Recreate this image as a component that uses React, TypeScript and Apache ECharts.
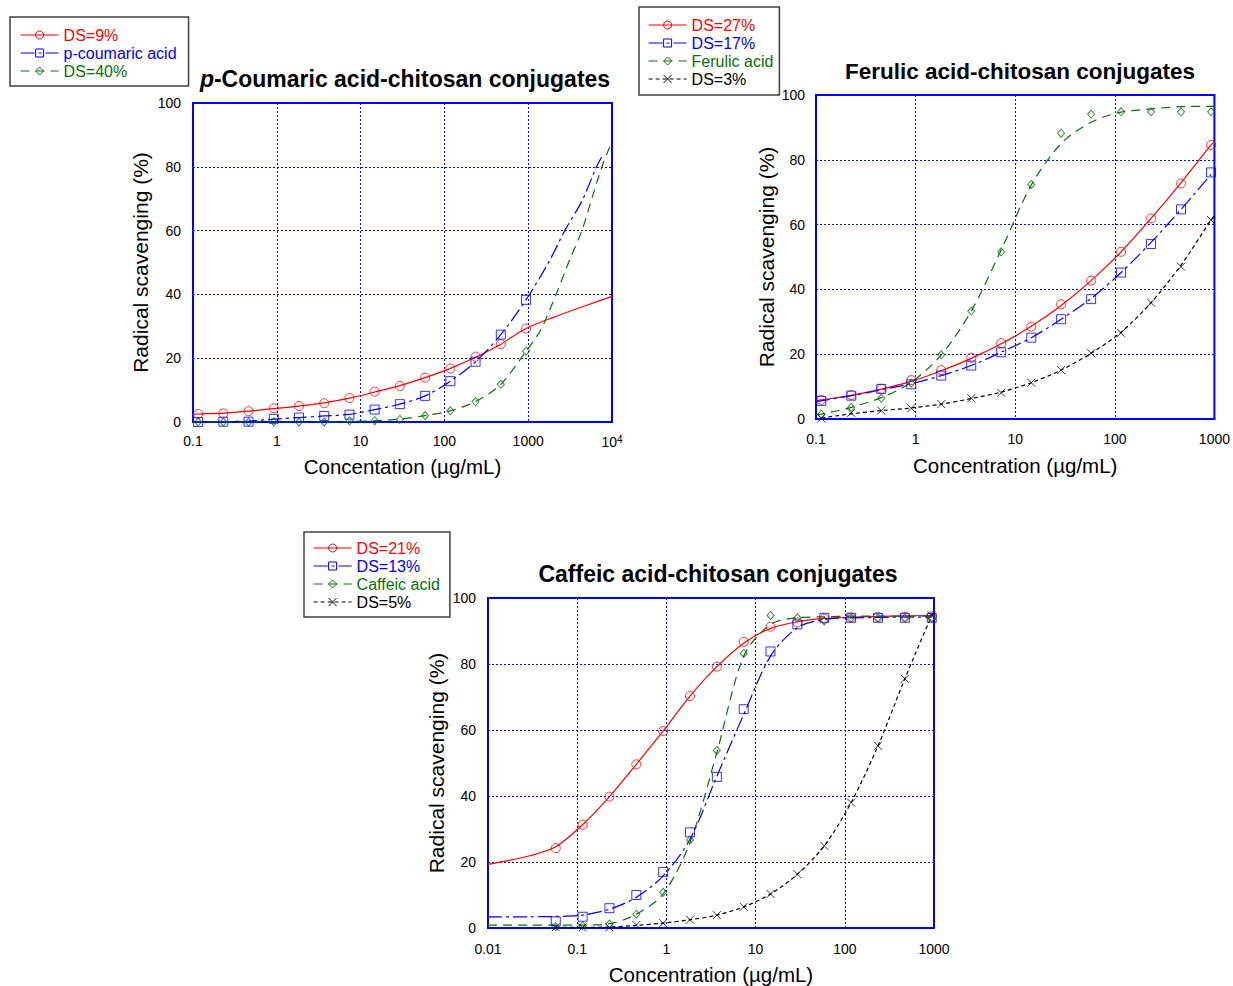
import React, { useEffect, useRef } from "react";
import * as echarts from "echarts";

const FONT = "'Liberation Sans', Arial, sans-serif";
const RED = "#ff0000";
const BLUE = "#0000ff";
const GREEN = "#0b6e0b";
const BLACK = "#000000";
const XSYM = "path://M0,0L10,10M0,10L10,0";

// ---------- Chart 1: p-Coumaric acid-chitosan conjugates ----------
const coumConc = [0.115, 0.23, 0.46, 0.92, 1.84, 3.68, 7.36, 14.7, 29.4, 58.9, 117.8, 235.5, 471, 942];
const coumDS9 = [2.5, 2.7, 3.4, 4.3, 5.0, 5.9, 7.5, 9.5, 11.3, 13.9, 16.8, 20.5, 24.4, 29.3];
const coumAcid = [0, 0.1, 0.1, 1.0, 1.4, 1.9, 2.3, 3.9, 5.6, 8.2, 12.8, 18.9, 27.4, 38.3];
const coumDS40 = [0, 0, 0, 0, 0, 0, 0.4, 0.4, 0.8, 2.0, 3.5, 6.4, 11.8, 22.2];
// fitted curves
const coumDS9Fit = [[0.1, 2.4], [0.115, 2.5], [0.23, 2.8], [0.46, 3.4], [0.92, 4.2], [1.84, 5.0], [3.68, 6.0], [7.36, 7.5], [14.7, 9.4], [29.4, 11.4], [58.9, 13.9], [117.8, 16.8], [235.5, 20.3], [471, 24.4], [942, 29.3], [2000, 32.8], [5000, 36.6], [10000, 39.4]];
const coumAcidFit = [[0.1, 0], [0.115, 0], [0.23, 0.1], [0.46, 0.3], [0.92, 0.9], [1.84, 1.4], [3.68, 1.9], [7.36, 2.4], [14.7, 3.9], [29.4, 5.6], [58.9, 8.2], [117.8, 12.8], [235.5, 18.9], [471, 27.4], [942, 38.3], [1800, 50.6], [2735, 60], [4400, 69.4], [6530, 80], [7500, 83]];
const coumDS40Fit = [[0.1, 0], [0.115, 0], [0.23, 0], [0.46, 0], [0.92, 0], [1.84, 0], [3.68, 0], [7.36, 0.2], [14.7, 0.4], [29.4, 0.9], [58.9, 2.0], [117.8, 3.5], [235.5, 6.4], [471, 11.8], [942, 22.2], [1400, 28.7], [2150, 40], [3100, 50.6], [4370, 60], [5800, 70.4], [7580, 80], [10000, 88]];

// ---------- Chart 2: Ferulic acid-chitosan conjugates ----------
const ferConc = [0.113, 0.226, 0.452, 0.904, 1.81, 3.62, 7.23, 14.5, 28.9, 57.8, 115.6, 231, 462, 925];
const ferDS27 = [5.9, 7.4, 9.3, 12.0, 15.1, 18.9, 23.4, 28.5, 35.4, 42.7, 51.6, 61.9, 72.7, 84.6];
const ferDS17 = [5.6, 7.2, 9.3, 10.7, 13.4, 16.5, 20.6, 25.1, 30.8, 37.0, 45.2, 54.0, 64.7, 76.1];
const ferAcid = [1.5, 3.6, 6.4, 11.0, 19.8, 33.3, 51.6, 72.4, 88.2, 94.1, 94.8, 94.8, 94.8, 94.8];
const ferDS3 = [0.2, 1.9, 2.6, 3.3, 4.6, 6.4, 8.1, 11.2, 15.1, 20.3, 26.6, 35.9, 47.0, 61.4];
const ferDS27Fit = [[0.1, 5.6], [0.113, 5.9], [0.226, 7.3], [0.452, 9.2], [0.904, 11.6], [1.81, 14.9], [3.62, 18.7], [7.23, 23.2], [14.5, 28.6], [28.9, 35.0], [57.8, 42.7], [115.6, 51.6], [231, 61.9], [462, 72.9], [925, 84.6], [1000, 85.6]];
const ferDS17Fit = [[0.1, 5.4], [0.113, 5.6], [0.226, 7.2], [0.452, 9.0], [0.904, 10.9], [1.81, 13.4], [3.62, 16.5], [7.23, 20.6], [14.5, 25.1], [28.9, 30.8], [57.8, 37.2], [115.6, 45.2], [231, 54.5], [462, 64.7], [925, 75.5]];
const ferAcidFit = [[0.1, 1.4], [0.113, 1.5], [0.226, 3.6], [0.452, 6.6], [0.904, 11.3], [1.81, 19.8], [3.62, 33.3], [7.23, 52.2], [14.5, 72.2], [28.9, 85.0], [57.8, 91.6], [115.6, 94.7], [231, 95.7], [462, 96.4], [925, 96.5], [1000, 96.5]];
const ferDS3Fit = [[0.113, 0.3], [0.226, 1.6], [0.452, 2.6], [0.904, 3.4], [1.81, 4.6], [3.62, 6.3], [7.23, 8.3], [14.5, 11.2], [28.9, 15.1], [57.8, 20.3], [115.6, 26.8], [231, 35.9], [462, 47.5], [925, 61.4], [1000, 62.7]];

// ---------- Chart 3: Caffeic acid-chitosan conjugates ----------
const cafConc = [0.0575, 0.115, 0.23, 0.46, 0.92, 1.84, 3.68, 7.36, 14.7, 29.4, 58.9, 117.8, 235.5, 471, 942];
const cafDS21 = [24.2, 31.3, 39.8, 49.6, 59.7, 70.3, 79.2, 86.7, 91.3, 92.6, 93.7, 94.1, 94.2, 94.3, 94.4];
const cafDS13 = [2.0, 3.4, 6.0, 10.0, 17.0, 29.0, 45.8, 66.3, 83.8, 92.0, 94.0, 94.0, 94.0, 94.0, 94.0];
const cafAcid = [0.4, 0.7, 1.2, 4.2, 10.8, 26.7, 53.8, 83.2, 94.7, 94.0, 93.0, 94.0, 94.0, 94.0, 94.0];
const cafDS5 = [0.2, 0.2, 0.2, 0.9, 1.5, 2.5, 3.9, 6.4, 10.3, 16.3, 24.9, 38.0, 55.2, 75.5, 94.7];
const cafDS21Fit = [[0.01, 19.3], [0.0295, 21.9], [0.0575, 24.6], [0.115, 31.3], [0.23, 39.8], [0.46, 49.6], [0.92, 59.7], [1.84, 70.3], [3.68, 79.2], [7.36, 86.3], [14.7, 90.8], [29.4, 92.8], [58.9, 93.8], [117.8, 94.2], [235.5, 94.4], [471, 94.6], [942, 94.7], [1000, 94.7]];
const cafDS13Fit = [[0.01, 3.4], [0.0288, 3.4], [0.0575, 3.5], [0.115, 3.9], [0.23, 5.7], [0.46, 9.3], [0.92, 15.8], [1.84, 26.9], [3.68, 46.0], [7.36, 64.7], [14.7, 82.4], [29.4, 91.0], [58.9, 93.5], [117.8, 94.0], [235.5, 94.1], [471, 94.2], [942, 94.2]];
const cafAcidFit = [[0.01, 0.9], [0.0288, 0.9], [0.0575, 0.9], [0.115, 0.9], [0.23, 1.3], [0.46, 4.2], [0.92, 10.3], [1.84, 25.9], [3.68, 53.2], [7.36, 82.4], [14.7, 92.0], [29.4, 94.0], [58.9, 94.3], [117.8, 94.5], [235.5, 94.5], [471, 94.5], [942, 94.5]];
const cafDS5Fit = [[0.0575, 0.2], [0.115, 0.2], [0.23, 0.3], [0.46, 0.8], [0.92, 1.5], [1.84, 2.5], [3.68, 3.9], [7.36, 6.4], [14.7, 10.3], [29.4, 16.3], [58.9, 24.9], [117.8, 38.0], [235.5, 55.2], [471, 75.5], [942, 94.7], [1000, 96]];

const pairs = (xs: number[], ys: number[]) => xs.map((x, i) => [x, ys[i]]);

type Spec = {
  name: string;
  grid: number;
  fit: number[][];
  xs: number[];
  ys: number[];
  color: string;
  dash: any;
  symbol: string;
  size: number | number[];
};

function makeSeries(s: Spec) {
  const itemStyle = { color: "transparent", borderColor: s.color, borderWidth: 1 };
  return [
    {
      type: "line",
      name: s.name,
      xAxisIndex: s.grid,
      yAxisIndex: s.grid,
      data: s.fit,
      smooth: 0.3,
      showSymbol: false,
      symbol: s.symbol,
      symbolSize: s.size,
      lineStyle: { color: s.color, width: 1.2, type: s.dash },
      itemStyle,
      clip: true,
      z: 2,
    },
    {
      type: "scatter",
      name: s.name + " (points)",
      xAxisIndex: s.grid,
      yAxisIndex: s.grid,
      data: pairs(s.xs, s.ys),
      symbol: s.symbol,
      symbolSize: s.size,
      itemStyle,
      z: 3,
    },
  ];
}

const DASH_BLUE = [14, 4, 3, 4];
const DASH_GREEN = [9, 6];
const DASH_BLACK = [4, 3];

const specs: Spec[] = [
  { name: "DS=9%", grid: 0, fit: coumDS9Fit, xs: coumConc, ys: coumDS9, color: RED, dash: "solid", symbol: "circle", size: 9 },
  { name: "p-coumaric acid", grid: 0, fit: coumAcidFit, xs: coumConc, ys: coumAcid, color: BLUE, dash: DASH_BLUE, symbol: "rect", size: 9 },
  { name: "DS=40%", grid: 0, fit: coumDS40Fit, xs: coumConc, ys: coumDS40, color: GREEN, dash: DASH_GREEN, symbol: "diamond", size: [7, 8] },
  { name: "DS=27%", grid: 1, fit: ferDS27Fit, xs: ferConc, ys: ferDS27, color: RED, dash: "solid", symbol: "circle", size: 9 },
  { name: "DS=17%", grid: 1, fit: ferDS17Fit, xs: ferConc, ys: ferDS17, color: BLUE, dash: DASH_BLUE, symbol: "rect", size: 9 },
  { name: "Ferulic acid", grid: 1, fit: ferAcidFit, xs: ferConc, ys: ferAcid, color: GREEN, dash: DASH_GREEN, symbol: "diamond", size: [7, 8] },
  { name: "DS=3%", grid: 1, fit: ferDS3Fit, xs: ferConc, ys: ferDS3, color: BLACK, dash: DASH_BLACK, symbol: XSYM, size: 8 },
  { name: "DS=21%", grid: 2, fit: cafDS21Fit, xs: cafConc, ys: cafDS21, color: RED, dash: "solid", symbol: "circle", size: 9 },
  { name: "DS=13%", grid: 2, fit: cafDS13Fit, xs: cafConc, ys: cafDS13, color: BLUE, dash: DASH_BLUE, symbol: "rect", size: 9 },
  { name: "Caffeic acid", grid: 2, fit: cafAcidFit, xs: cafConc, ys: cafAcid, color: GREEN, dash: DASH_GREEN, symbol: "diamond", size: [7, 8] },
  { name: "DS=5%", grid: 2, fit: cafDS5Fit, xs: cafConc, ys: cafDS5, color: BLACK, dash: DASH_BLACK, symbol: XSYM, size: 8 },
];

const logLabel = (v: number) => {
  const e = Math.round(Math.log10(v));
  if (e >= 4) return "10{sup|" + e + "}";
  if (e < 0) return v.toFixed(-e);
  return String(Math.round(v));
};

const splitLine = { show: true, lineStyle: { color: BLUE, type: [2, 2], width: 1 } };
const axisLine = { show: true, lineStyle: { color: BLUE, width: 2 } };

function xAxis(grid: number, min: number, max: number, margin: number, name: string, nameGap: number) {
  return {
    type: "log",
    logBase: 10,
    gridIndex: grid,
    min,
    max,
    name,
    nameLocation: "middle",
    nameGap,
    nameTextStyle: { fontSize: 20.5, color: "#000", fontFamily: FONT },
    axisLine,
    axisTick: { show: false },
    minorTick: { show: false },
    axisLabel: {
      margin,
      fontSize: 14,
      color: "#000",
      fontFamily: FONT,
      showMinLabel: true,
      showMaxLabel: true,
      formatter: logLabel,
      rich: { sup: { fontSize: 10, fontFamily: FONT, color: "#000", verticalAlign: "top", padding: [0, 0, 6, 0] } },
    },
    splitLine,
  };
}

function yAxis(grid: number, margin: number, nameGap: number) {
  return {
    type: "value",
    gridIndex: grid,
    min: 0,
    max: 100,
    interval: 20,
    name: "Radical scavenging (%)",
    nameLocation: "middle",
    nameGap,
    nameTextStyle: { fontSize: 21, color: "#000", fontFamily: FONT },
    axisLine,
    axisTick: { show: false },
    axisLabel: { margin, fontSize: 14, color: "#000", fontFamily: FONT },
    splitLine,
  };
}

function legend(names: string[], left: number, top: number, padding: number[]) {
  return {
    orient: "vertical",
    left,
    top,
    padding,
    itemWidth: 38,
    itemHeight: 10,
    itemGap: 2,
    borderColor: "#404040",
    borderWidth: 1.5,
    backgroundColor: "#fff",
    selectedMode: false,
    textStyle: { fontSize: 16, fontFamily: FONT },
    data: names.map((n) => {
      const s = specs.find((sp) => sp.name === n)!;
      return {
        name: n,
        textStyle: { color: s.color, fontSize: 16, fontFamily: FONT },
        itemStyle: { color: "transparent", borderColor: s.color, borderWidth: 1 },
        lineStyle: { color: s.color, width: 1.2, type: s.dash },
      };
    }),
  };
}

function titleText(x: number, y: number, italic: string, rest: string, size: number) {
  const base = { fontWeight: "bold", fontSize: size, fontFamily: FONT, fill: "#000" };
  return {
    type: "text",
    x,
    y,
    style: {
      text: (italic ? "{i|" + italic + "}" : "") + "{n|" + rest + "}",
      align: "center",
      verticalAlign: "middle",
      textAlign: "center",
      textVerticalAlign: "middle",
      fontWeight: "bold",
      fontSize: size,
      fontFamily: FONT,
      fill: "#000",
      rich: { i: { ...base, fontStyle: "italic" }, n: base },
    },
  };
}

export default function App() {
  const ref = useRef<HTMLDivElement>(null);
  useEffect(() => {
    const chart = echarts.init(ref.current!, null, { renderer: "svg" });
    const option: any = {
      animation: false,
      backgroundColor: "#fff",
      grid: [
        { left: 193, top: 103, width: 419, height: 319, show: true, borderColor: BLUE, borderWidth: 2 },
        { left: 816, top: 95, width: 401, height: 324, show: true, borderColor: BLUE, borderWidth: 2 },
        { left: 488, top: 598, width: 446, height: 331, show: true, borderColor: BLUE, borderWidth: 2 },
      ],
      xAxis: [
        xAxis(0, 0.1, 10000, 12, "Concentation (\u00b5g/mL)", 34),
        xAxis(1, 0.1, 1000, 13, "Concentration (\u00b5g/mL)", 36),
        xAxis(2, 0.01, 1000, 14, "Concentration (\u00b5g/mL)", 36),
      ],
      yAxis: [yAxis(0, 12, 42), yAxis(1, 11, 39), yAxis(2, 12, 41)],
      legend: [
        legend(["DS=9%", "p-coumaric acid", "DS=40%"], 10, 17, [10, 12, 7, 10]),
        legend(["DS=27%", "DS=17%", "Ferulic acid", "DS=3%"], 639, 7, [10, 6, 8, 9]),
        legend(["DS=21%", "DS=13%", "Caffeic acid", "DS=5%"], 304, 532, [8, 10, 7, 9]),
      ],
      graphic: [
        titleText(405, 79, "p", "-Coumaric acid-chitosan conjugates", 23),
        titleText(1020, 71, "", "Ferulic acid-chitosan conjugates", 22.5),
        titleText(718, 574, "", "Caffeic acid-chitosan conjugates", 23),
      ],
      series: specs.flatMap(makeSeries),
    };
    chart.setOption(option);
    return () => chart.dispose();
  }, []);
  return (
    <div
      ref={ref}
      style={{ position: "absolute", left: 0, top: 0, width: 1233, height: 986, background: "#fff" }}
    />
  );
}
